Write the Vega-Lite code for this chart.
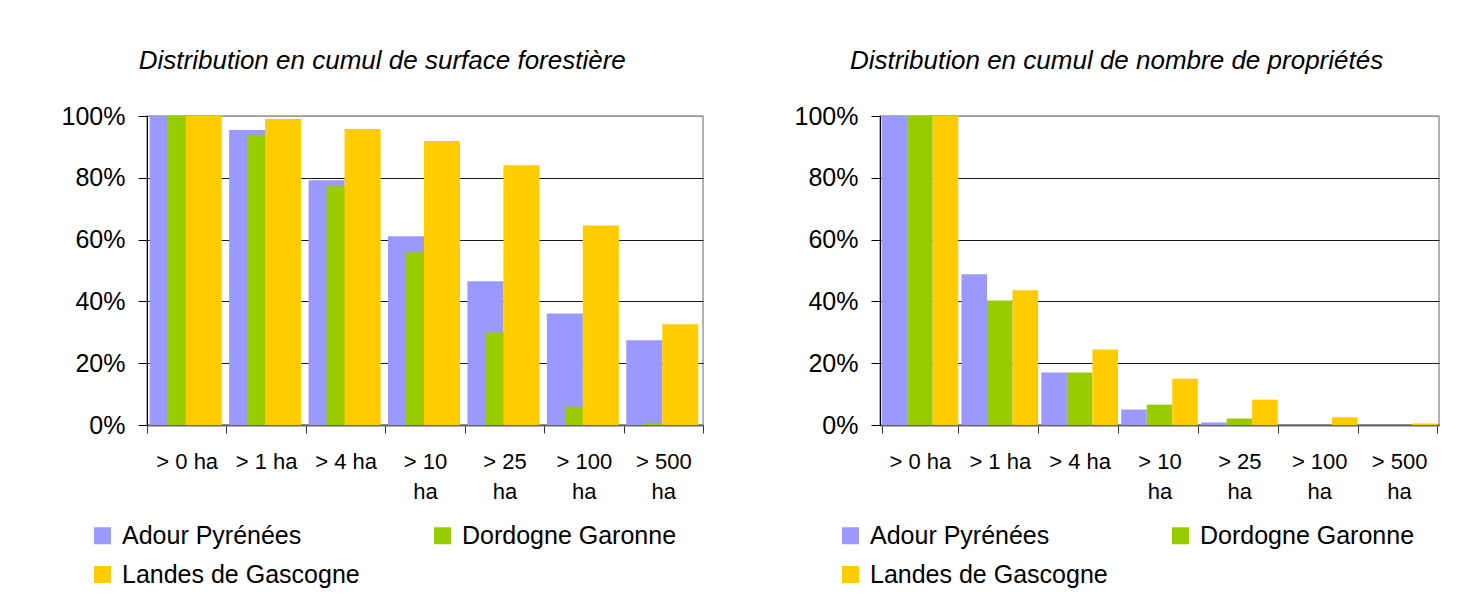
{
  "$schema": "https://vega.github.io/schema/vega-lite/v6.json",
  "padding": {"left": 60, "top": 47, "right": 0, "bottom": 0},
  "background": "white",
  "datasets": {
    "surface": [
      {"classe": "> 0 ha", "zone": "Adour Pyrénées", "part": 1.0},
      {"classe": "> 0 ha", "zone": "Dordogne Garonne", "part": 1.0},
      {"classe": "> 0 ha", "zone": "Landes de Gascogne", "part": 1.0},
      {"classe": "> 1 ha", "zone": "Adour Pyrénées", "part": 0.955},
      {"classe": "> 1 ha", "zone": "Dordogne Garonne", "part": 0.939},
      {"classe": "> 1 ha", "zone": "Landes de Gascogne", "part": 0.99},
      {"classe": "> 4 ha", "zone": "Adour Pyrénées", "part": 0.792},
      {"classe": "> 4 ha", "zone": "Dordogne Garonne", "part": 0.773},
      {"classe": "> 4 ha", "zone": "Landes de Gascogne", "part": 0.958},
      {"classe": "> 10 ha", "zone": "Adour Pyrénées", "part": 0.611},
      {"classe": "> 10 ha", "zone": "Dordogne Garonne", "part": 0.559},
      {"classe": "> 10 ha", "zone": "Landes de Gascogne", "part": 0.919},
      {"classe": "> 25 ha", "zone": "Adour Pyrénées", "part": 0.465},
      {"classe": "> 25 ha", "zone": "Dordogne Garonne", "part": 0.299},
      {"classe": "> 25 ha", "zone": "Landes de Gascogne", "part": 0.841},
      {"classe": "> 100 ha", "zone": "Adour Pyrénées", "part": 0.361},
      {"classe": "> 100 ha", "zone": "Dordogne Garonne", "part": 0.059},
      {"classe": "> 100 ha", "zone": "Landes de Gascogne", "part": 0.646},
      {"classe": "> 500 ha", "zone": "Adour Pyrénées", "part": 0.274},
      {"classe": "> 500 ha", "zone": "Dordogne Garonne", "part": 0.006},
      {"classe": "> 500 ha", "zone": "Landes de Gascogne", "part": 0.326}
    ],
    "proprietes": [
      {"classe": "> 0 ha", "zone": "Adour Pyrénées", "part": 1.0},
      {"classe": "> 0 ha", "zone": "Dordogne Garonne", "part": 1.0},
      {"classe": "> 0 ha", "zone": "Landes de Gascogne", "part": 1.0},
      {"classe": "> 1 ha", "zone": "Adour Pyrénées", "part": 0.488},
      {"classe": "> 1 ha", "zone": "Dordogne Garonne", "part": 0.403},
      {"classe": "> 1 ha", "zone": "Landes de Gascogne", "part": 0.436},
      {"classe": "> 4 ha", "zone": "Adour Pyrénées", "part": 0.17},
      {"classe": "> 4 ha", "zone": "Dordogne Garonne", "part": 0.17},
      {"classe": "> 4 ha", "zone": "Landes de Gascogne", "part": 0.244},
      {"classe": "> 10 ha", "zone": "Adour Pyrénées", "part": 0.05},
      {"classe": "> 10 ha", "zone": "Dordogne Garonne", "part": 0.066},
      {"classe": "> 10 ha", "zone": "Landes de Gascogne", "part": 0.15},
      {"classe": "> 25 ha", "zone": "Adour Pyrénées", "part": 0.008},
      {"classe": "> 25 ha", "zone": "Dordogne Garonne", "part": 0.021},
      {"classe": "> 25 ha", "zone": "Landes de Gascogne", "part": 0.082},
      {"classe": "> 100 ha", "zone": "Adour Pyrénées", "part": 0.0},
      {"classe": "> 100 ha", "zone": "Dordogne Garonne", "part": 0.0},
      {"classe": "> 100 ha", "zone": "Landes de Gascogne", "part": 0.025},
      {"classe": "> 500 ha", "zone": "Adour Pyrénées", "part": 0.0},
      {"classe": "> 500 ha", "zone": "Dordogne Garonne", "part": 0.0},
      {"classe": "> 500 ha", "zone": "Landes de Gascogne", "part": 0.005}
    ]
  },
  "spacing": 88,
  "resolve": {"scale": {"color": "independent"}, "legend": {"color": "independent"}},
  "hconcat": [
    {
      "width": 556,
      "height": 309,
      "title": "Distribution en cumul de surface forestière",
      "data": {"name": "surface"},
      "encoding": {
        "x": {
          "field": "classe", "type": "nominal",
          "sort": ["> 0 ha", "> 1 ha", "> 4 ha", "> 10 ha", "> 25 ha", "> 100 ha", "> 500 ha"],
          "scale": {"paddingInner": 0, "paddingOuter": 0},
          "axis": {"title": null}
        },
        "y": {
          "field": "part", "type": "quantitative",
          "scale": {"domain": [0, 1], "nice": false},
          "axis": {"title": null, "values": [0, 0.2, 0.4, 0.6, 0.8, 1], "format": ".0%"}
        },
        "color": {
          "field": "zone", "type": "nominal",
          "scale": {"domain": ["Adour Pyrénées", "Dordogne Garonne", "Landes de Gascogne"], "range": ["#9999FF", "#99CC00", "#FFCC00"]},
          "legend": {"orient": "none", "legendX": -57, "legendY": 407, "columns": 2, "columnPadding": 70, "rowPadding": 13}
        }
      },
      "layer": [
        {"transform": [{"filter": "datum.zone == 'Adour Pyrénées'"}], "mark": {"type": "bar", "width": 36, "xOffset": -19}},
        {"transform": [{"filter": "datum.zone == 'Dordogne Garonne'"}], "mark": {"type": "bar", "width": 36, "xOffset": -1}},
        {"transform": [{"filter": "datum.zone == 'Landes de Gascogne'"}], "mark": {"type": "bar", "width": 36, "xOffset": 17}}
      ]
    },
    {
      "width": 559,
      "height": 309,
      "title": "Distribution en cumul de nombre de propriétés",
      "data": {"name": "proprietes"},
      "mark": {"type": "bar"},
      "encoding": {
        "x": {
          "field": "classe", "type": "nominal",
          "sort": ["> 0 ha", "> 1 ha", "> 4 ha", "> 10 ha", "> 25 ha", "> 100 ha", "> 500 ha"],
          "scale": {"paddingInner": 0.04, "paddingOuter": 0.02},
          "axis": {"title": null}
        },
        "xOffset": {
          "field": "zone", "type": "nominal",
          "sort": ["Adour Pyrénées", "Dordogne Garonne", "Landes de Gascogne"],
          "scale": {"paddingInner": 0, "paddingOuter": 0}
        },
        "y": {
          "field": "part", "type": "quantitative",
          "scale": {"domain": [0, 1], "nice": false},
          "axis": {"title": null, "values": [0, 0.2, 0.4, 0.6, 0.8, 1], "format": ".0%"}
        },
        "color": {
          "field": "zone", "type": "nominal",
          "scale": {"domain": ["Adour Pyrénées", "Dordogne Garonne", "Landes de Gascogne"], "range": ["#9999FF", "#99CC00", "#FFCC00"]},
          "legend": {"orient": "none", "legendX": -42, "legendY": 407, "columns": 2, "columnPadding": 60, "rowPadding": 13}
        }
      }
    }
  ],
  "config": {
    "font": "Liberation Sans",
    "view": {"stroke": "#999999", "strokeWidth": 1.5},
    "title": {"font": "Liberation Sans", "fontSize": 26, "fontStyle": "italic", "fontWeight": "normal", "color": "black", "anchor": "middle", "frame": "bounds", "offset": 30},
    "axisX": {
      "tickBand": "extent", "tickSize": 8, "tickColor": "#333333", "domainColor": "#666666", "domainWidth": 2,
      "labelAngle": 0, "labelFont": "Liberation Sans", "labelFontSize": 22, "labelColor": "black",
      "labelPadding": 18, "labelLineHeight": 30,
      "labelExpr": "length(datum.label) > 6 ? [replace(datum.label, ' ha', ''), 'ha'] : datum.label",
      "grid": false
    },
    "axisY": {
      "tickSize": 9, "tickColor": "black", "domainColor": "black",
      "labelFont": "Liberation Sans", "labelFontSize": 25, "labelColor": "black", "labelPadding": 13,
      "grid": true, "gridColor": {"condition": {"test": "datum.value === 1", "value": "#999999"}, "value": "#1a1a1a"}, "gridOpacity": 1
    },
    "legend": {
      "title": null, "direction": "horizontal", "padding": 0,
      "symbolType": "square", "symbolSize": 289, "symbolStrokeWidth": 0, "symbolOpacity": 1,
      "labelFont": "Liberation Sans", "labelFontSize": 25, "labelColor": "black", "labelOffset": 7, "labelLimit": 400
    }
  }
}
